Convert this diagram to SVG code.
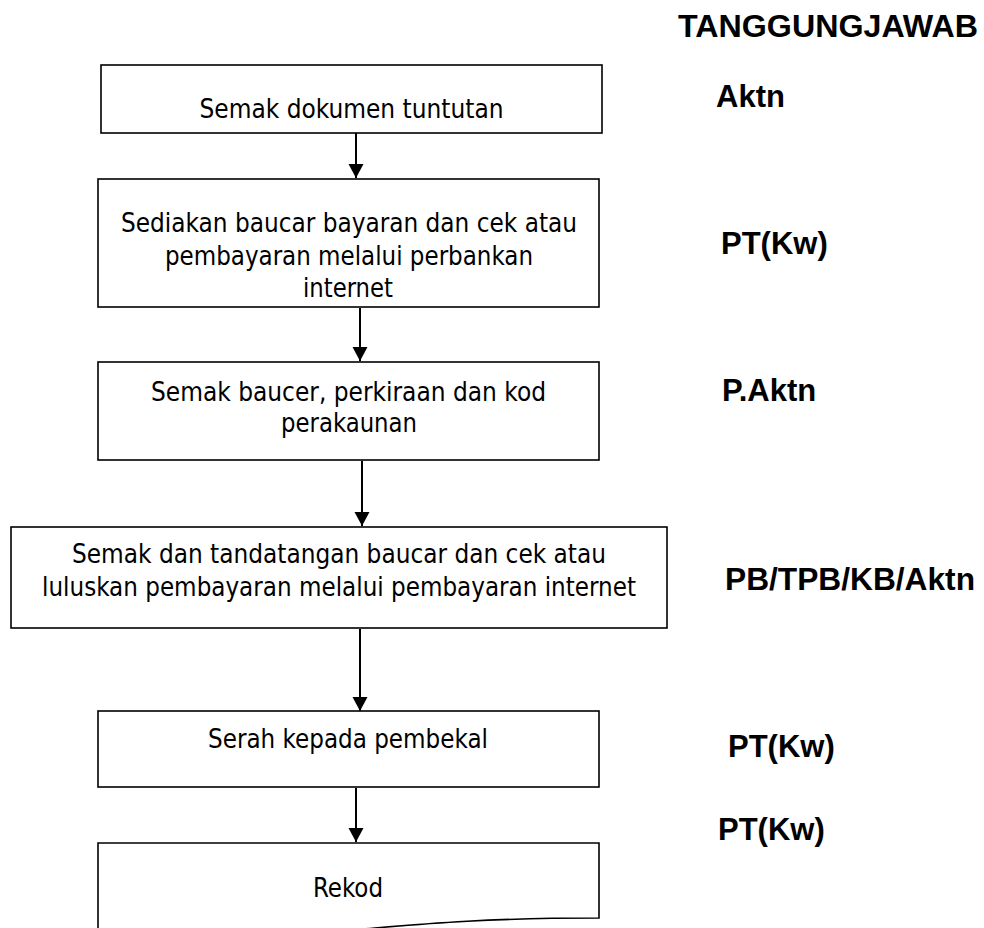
<svg xmlns="http://www.w3.org/2000/svg" width="984" height="928" viewBox="0 0 984 928">
<defs>
<style>
.box{fill:#fff;stroke:#000;stroke-width:1.6}
.t{font-family:"DejaVu Sans Condensed","DejaVu Sans",sans-serif;font-size:26px;text-anchor:middle;fill:#000}
.r{font-family:"Liberation Sans",Arial,sans-serif;font-weight:bold;font-size:31px;fill:#000}
.c{fill:none;stroke:#000;stroke-width:2}
</style>
<marker id="ah" markerWidth="16" markerHeight="16" refX="14" refY="7.5" orient="auto" markerUnits="userSpaceOnUse">
<path d="M0,0 L14,7.5 L0,15 Z" fill="#000"/>
</marker>
</defs>
<rect width="984" height="928" fill="#fff"/>
<g id="connectors">
<path class="c" d="M356,133 V178" marker-end="url(#ah)"/>
<path class="c" d="M360,308 V361" marker-end="url(#ah)"/>
<path class="c" d="M362,461 V526" marker-end="url(#ah)"/>
<path class="c" d="M360,629 V711" marker-end="url(#ah)"/>
<path class="c" d="M356,788 V842" marker-end="url(#ah)"/>
</g>
<g id="n1">
<rect class="box" x="101" y="65" width="501" height="68"/>
<text class="t" x="351.5" y="118" textLength="304" lengthAdjust="spacingAndGlyphs">Semak dokumen tuntutan</text>
</g>
<g id="n2">
<rect class="box" x="98" y="179" width="501" height="128"/>
<text class="t" x="349" y="232" textLength="456" lengthAdjust="spacingAndGlyphs">Sediakan baucar bayaran dan cek atau</text>
<text class="t" x="349" y="265" textLength="368" lengthAdjust="spacingAndGlyphs">pembayaran melalui perbankan</text>
<text class="t" x="348" y="297" textLength="90" lengthAdjust="spacingAndGlyphs">internet</text>
</g>
<g id="n3">
<rect class="box" x="98" y="362" width="501" height="98"/>
<text class="t" x="348.5" y="401" textLength="395" lengthAdjust="spacingAndGlyphs">Semak baucer, perkiraan dan kod</text>
<text class="t" x="349" y="432" textLength="136" lengthAdjust="spacingAndGlyphs">perakaunan</text>
</g>
<g id="n4">
<rect class="box" x="11" y="527" width="656" height="101"/>
<text class="t" x="339" y="563" textLength="534" lengthAdjust="spacingAndGlyphs">Semak dan tandatangan baucar dan cek atau</text>
<text class="t" x="339" y="596" textLength="594" lengthAdjust="spacingAndGlyphs">luluskan pembayaran melalui pembayaran internet</text>
</g>
<g id="n5">
<rect class="box" x="98" y="711" width="501" height="76"/>
<text class="t" x="348" y="748" textLength="280" lengthAdjust="spacingAndGlyphs">Serah kepada pembekal</text>
</g>
<g id="n6">
<path class="box" d="M98,843 H599 V918 C348.5,918 348.5,946.5 98,930.3 Z"/>
<text class="t" x="348" y="897" textLength="70" lengthAdjust="spacingAndGlyphs">Rekod</text>
</g>
<g id="labels">
<text class="r" x="678" y="37" textLength="300" lengthAdjust="spacingAndGlyphs">TANGGUNGJAWAB</text>
<text class="r" x="716" y="107">Aktn</text>
<text class="r" x="721" y="254">PT(Kw)</text>
<text class="r" x="722" y="401">P.Aktn</text>
<text class="r" x="725" y="590" textLength="250" lengthAdjust="spacingAndGlyphs">PB/TPB/KB/Aktn</text>
<text class="r" x="728" y="757">PT(Kw)</text>
<text class="r" x="718" y="840">PT(Kw)</text>
</g>
</svg>
